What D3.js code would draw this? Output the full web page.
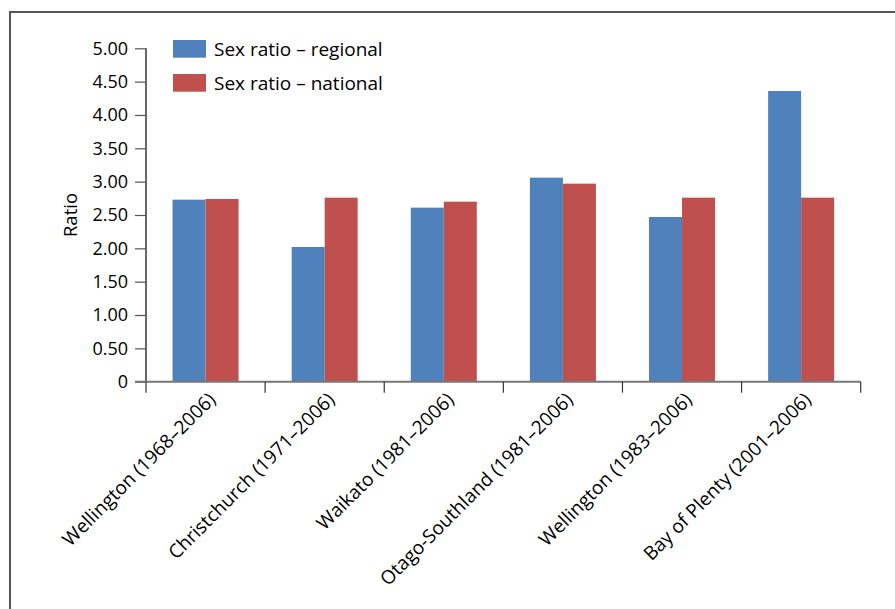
<!DOCTYPE html>
<html><head><meta charset="utf-8">
<script src="https://cdn.jsdelivr.net/npm/d3@7"></script>
<style>body{margin:0;background:#fff;}svg{display:block;}</style>
</head><body>
<svg id="c" width="895" height="609"></svg>
<script>
const categories = ["Wellington (1968–2006)","Christchurch (1971–2006)","Waikato (1981–2006)","Otago-Southland (1981–2006)","Wellington (1983–2006)","Bay of Plenty (2001–2006)"];
const regional = [2.73, 2.02, 2.61, 3.06, 2.47, 4.36];
const national = [2.74, 2.76, 2.70, 2.97, 2.76, 2.76];
const seriesNames = ["Sex ratio – regional","Sex ratio – national"];
const yTicks = [0,0.5,1,1.5,2,2.5,3,3.5,4,4.5,5];
const colors = ["#4F81BD","#C0504D"];
const FONT = "'Open Sans', 'Noto Sans', sans-serif";

const svg = d3.select("#c");
svg.append("rect").attr("x",10).attr("y",12).attr("width",900).attr("height",620)
  .attr("fill","none").attr("stroke","#555").attr("stroke-width",2);

const L=146, R=860.7, T=48.3, B=381.7;
const x = d3.scaleBand().domain(categories).range([L,R]);
const y = d3.scaleLinear().domain([0,5]).range([B,T]);
const groupW = 66/119.1 * x.bandwidth();
const sub = d3.scaleBand().domain([0,1]).range([(x.bandwidth()-groupW)/2, (x.bandwidth()+groupW)/2]);

const data = categories.map((c,i)=>({c, v:[regional[i], national[i]]}));
const g = svg.append("g");
data.forEach(d=>{
  d.v.forEach((v,j)=>{
    g.append("rect").attr("x", x(d.c)+sub(j)).attr("width", sub.bandwidth())
      .attr("y", y(v)).attr("height", y(0)-y(v)).attr("fill", colors[j]);
  });
});

const ya = svg.append("g").attr("transform",`translate(${L},0)`)
  .call(d3.axisLeft(y).tickValues(yTicks).tickSize(11).tickPadding(7)
    .tickFormat(d=> d===0 ? "0" : d3.format(".2f")(d)));
ya.attr("font-family", FONT);
ya.select(".domain").attr("stroke","#000").attr("stroke-width",1.2).attr("d",`M0,${T}V${B}`);
ya.selectAll(".tick line").attr("stroke","#555").attr("stroke-width",1.2);
ya.selectAll(".tick text").attr("font-size",18).attr("fill","#000").attr("font-family",FONT);

const xa = svg.append("g").attr("transform",`translate(0,${B})`)
  .call(d3.axisBottom(x).tickSize(0).tickFormat(""));
xa.attr("font-family", FONT);
xa.select(".domain").attr("stroke","#777").attr("stroke-width",2).attr("d",`M${L-11},0H${R}`);
const bounds = [L].concat(categories.map(c=>x(c)+x.bandwidth()));
xa.selectAll(".bt").data(bounds).enter().append("line").attr("class","bt")
  .attr("x1",d=>d).attr("x2",d=>d).attr("y1",0).attr("y2",11).attr("stroke","#333").attr("stroke-width",1.2);
xa.selectAll(".lbl").data(categories).enter().append("text").attr("class","lbl")
  .attr("transform",d=>`translate(${x(d)+x.bandwidth()/2+3},${11}) rotate(-45)`)
  .attr("text-anchor","end").attr("dy","0.6em").attr("font-size",19).attr("fill","#000")
  .attr("font-family",FONT).text(d=>d);

svg.append("text").attr("transform","translate(77,215) rotate(-90)").attr("text-anchor","middle")
  .attr("font-size",18.5).attr("fill","#000").attr("font-family",FONT).text("Ratio");

const lg = svg.append("g");
seriesNames.forEach((s,i)=>{
  lg.append("rect").attr("x",173).attr("y",40+i*34).attr("width",33).attr("height",17.7).attr("fill",colors[i]);
  lg.append("text").attr("x",214).attr("y",55.5+i*34).attr("font-size",19).attr("fill","#000")
    .attr("font-family",FONT).text(s);
});
</script>
</body></html>
